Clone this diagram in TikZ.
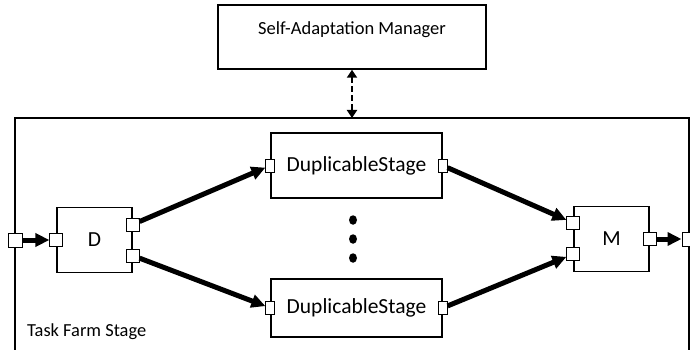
\documentclass[tikz,border=0pt]{standalone}
\usepackage{fontspec}
\setmainfont{Carlito}
\usetikzlibrary{arrows.meta,shapes.geometric}

\begin{document}
\begin{tikzpicture}[x=1pt,y=-1pt,
  box/.style={draw,line width=1.2pt,inner sep=0pt,font=\fontsize{21.5}{24}\selectfont},
  port/.style={draw,fill=white,line width=1pt,inner sep=0pt,minimum width=13pt,minimum height=13pt},
  sport/.style={port,minimum width=9pt},
  flow/.style={-{Triangle[length=14pt,width=13pt]},line width=5pt},
  dot/.style={ellipse,fill=black,inner sep=0pt,minimum width=8pt,minimum height=9.5pt}]
  \useasboundingbox (0,0) rectangle (690,350);
  \node[box,line width=1.5pt,minimum width=268pt,minimum height=64pt,
    text height=13pt,text depth=17pt,font=\fontsize{18.5}{22}\selectfont] (mgr) at (352,37) {Self-Adaptation Manager};
  \coordinate (ftl) at (15,118);
  \coordinate (fbl) at (15,350);
  \coordinate (fbr) at (689,350);
  \draw[line width=1.5pt] (fbl) |- (fbr |- ftl) -- (fbr);
  \draw[{Triangle[length=8pt,width=10pt]}-{Triangle[length=8pt,width=10pt]},line width=2.5pt,dash pattern=on 6pt off 3pt]
    (mgr.south) -- (mgr.south |- ftl);
  \node[box,minimum width=75pt,minimum height=65pt] (d) at (94.5,240) {D};
  \node[box,minimum width=75pt,minimum height=65pt] (m) at (611.5,239) {M};
  \node[box,minimum width=171pt,minimum height=65pt] (ds1) at (356.5,165.5) {DuplicableStage};
  \node[box,minimum width=171pt,minimum height=58pt] (ds2) at (356.5,308) {DuplicableStage};
  \node[port,minimum size=14pt] (fin) at (15,240) {};
  \node[port,minimum size=14pt] (fout) at (689,239) {};
  \node[port] (dIn) at (d.west) {};
  \node[port] (dOutA) at ([yshift=15.5pt]d.east) {};
  \node[port] (dOutB) at ([yshift=-15.5pt]d.east) {};
  \node[port] (mInA) at ([yshift=16pt]m.west) {};
  \node[port] (mInB) at ([yshift=-15pt]m.west) {};
  \node[port] (mOut) at (m.east) {};
  \node[sport] (ds1In) at (ds1.west) {};
  \node[sport] (ds1Out) at (ds1.east) {};
  \node[sport] (ds2In) at (ds2.west) {};
  \node[sport] (ds2Out) at (ds2.east) {};
  \node[dot] (dotA) at (353,220) {};
  \node[dot] (dotB) at (353,239) {};
  \node[dot] (dotC) at (353,258) {};
  \node[anchor=base west,inner sep=0pt,font=\fontsize{18.4}{22}\selectfont] (tfs) at (27,336) {Task Farm Stage};
  \draw[flow] (fin) -- (dIn);
  \draw[flow] (dOutA) -- (ds1In);
  \draw[flow] (dOutB) -- (ds2In);
  \draw[flow] (ds1Out) -- (mInA);
  \draw[flow] (ds2Out) -- (mInB);
  \draw[flow] (mOut) -- (fout);
\end{tikzpicture}
\end{document}
